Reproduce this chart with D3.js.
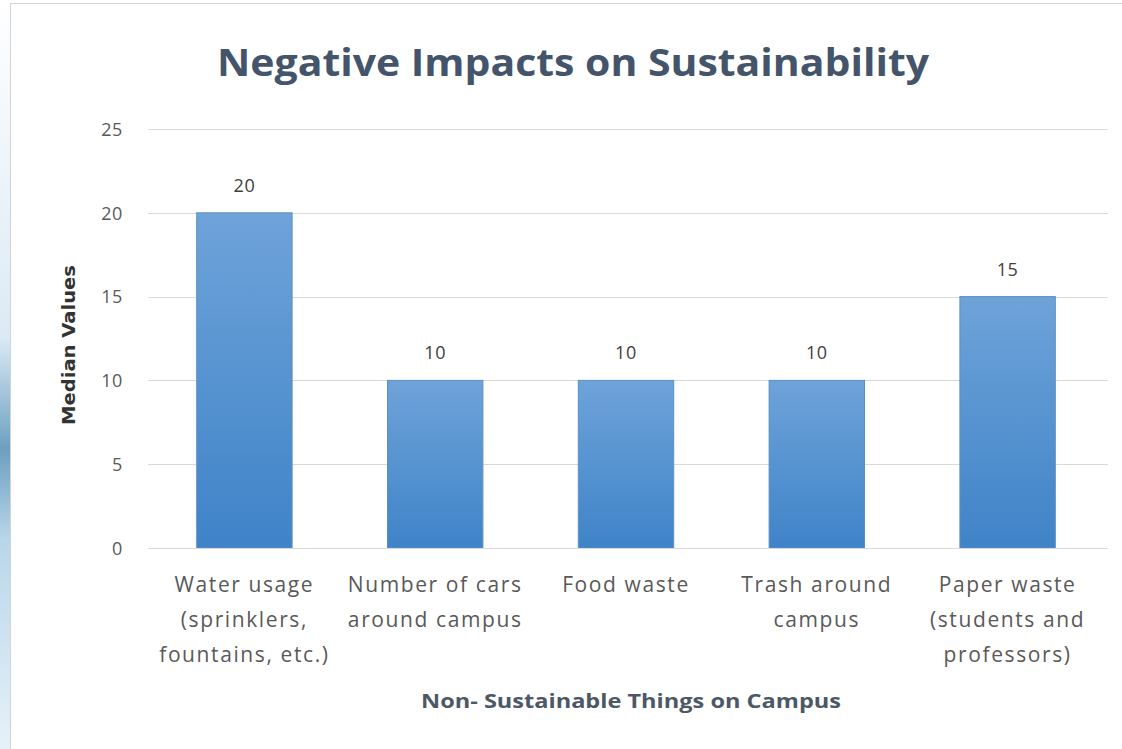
<!DOCTYPE html>
<html>
<head>
<meta charset="utf-8">
<script src="https://cdn.jsdelivr.net/npm/d3@7"></script>
<style>
  html, body { margin: 0; padding: 0; background: #ffffff; }
  svg { display: block; }
</style>
</head>
<body>
<svg id="chart" width="1122" height="749"></svg>
<script>
// Survey medians per campus issue
const categories = [
  ["Water usage", "(sprinklers,", "fountains, etc.)"],
  ["Number of cars", "around campus"],
  ["Food waste"],
  ["Trash around", "campus"],
  ["Paper waste", "(students and", "professors)"]
];
const values = [20, 10, 10, 10, 15];
const yTicks = [0, 5, 10, 15, 20, 25];
const chartTitle = "Negative Impacts on Sustainability";
const xTitle = "Non- Sustainable Things on Campus";
const yTitle = "Median Values";

const W = 1122, H = 749;
const svg = d3.select("#chart");
const defs = svg.append("defs");

// soft watery strip behind the chart panel on the left
const side = defs.append("linearGradient").attr("id", "side").attr("x1", 0).attr("y1", 0).attr("x2", 0).attr("y2", 1);
side.append("stop").attr("offset", "0").attr("stop-color", "#ffffff");
side.append("stop").attr("offset", "0.45").attr("stop-color", "#dbeaf5");
side.append("stop").attr("offset", "0.6").attr("stop-color", "#6d9fc0");
side.append("stop").attr("offset", "0.72").attr("stop-color", "#b9d6ea");
side.append("stop").attr("offset", "1").attr("stop-color", "#e6f1f9");
svg.append("rect").attr("x", 0).attr("y", 0).attr("width", 12).attr("height", H).attr("fill", "url(#side)");

// chart panel
svg.append("rect").attr("x", 10.5).attr("y", 3.5).attr("width", W).attr("height", H)
  .attr("fill", "#ffffff").attr("stroke", "#d4d4d4").attr("stroke-width", 1);

// bar fill: lighter at top, deeper blue at base
const barGrad = defs.append("linearGradient").attr("id", "barGrad").attr("x1", 0).attr("y1", 0).attr("x2", 0).attr("y2", 1);
barGrad.append("stop").attr("offset", "0").attr("stop-color", "#6ea3d9");
barGrad.append("stop").attr("offset", "1").attr("stop-color", "#3f83c8");

const x = d3.scaleBand().domain(d3.range(categories.length)).range([149, 1103]).paddingInner(0.5).paddingOuter(0.25);
const y = d3.scaleLinear().domain([0, 25]).range([548, 129]);

// gridlines
svg.append("g").selectAll("line").data(yTicks).join("line")
  .attr("x1", 148).attr("x2", 1108)
  .attr("y1", d => Math.round(y(d)) + 0.5).attr("y2", d => Math.round(y(d)) + 0.5)
  .attr("stroke", "#d9d9d9").attr("stroke-width", 1);

// y tick labels
const yAxis = d3.axisLeft(y).tickValues(yTicks).tickSize(0).tickPadding(0);
const gy = svg.append("g").attr("transform", "translate(123,0)").call(yAxis);
gy.select(".domain").remove();
gy.selectAll("text")
  .attr("font-family", "'Open Sans', sans-serif").attr("font-size", 18)
  .attr("letter-spacing", "0.6")
  .attr("fill", "#595959").attr("dy", "0.35em");

// bars
svg.append("g").selectAll("rect").data(values).join("rect")
  .attr("x", (d, i) => x(i))
  .attr("y", d => y(d))
  .attr("width", x.bandwidth())
  .attr("height", d => y(0) - y(d))
  .attr("fill", "url(#barGrad)")
  .attr("stroke", "#5b8fc4").attr("stroke-width", 1);

// value labels
svg.append("g").selectAll("text").data(values).join("text")
  .attr("x", (d, i) => x(i) + x.bandwidth() / 2)
  .attr("y", d => y(d) - 21)
  .attr("text-anchor", "middle")
  .attr("font-family", "'Open Sans', sans-serif").attr("font-size", 18)
  .attr("letter-spacing", "0.6")
  .attr("fill", "#404040")
  .text(d => d);

// category labels
const xAxis = d3.axisBottom(x).tickSize(0).tickFormat("");
const gx = svg.append("g").attr("transform", `translate(0,${y(0)})`).call(xAxis);
gx.select(".domain").attr("stroke", "#d9d9d9");
svg.append("g").selectAll("text").data(categories).join("text")
  .attr("x", (d, i) => x(i) + x.bandwidth() / 2)
  .attr("y", 592)
  .attr("text-anchor", "middle")
  .attr("font-family", "'Open Sans', sans-serif").attr("font-size", 21)
  .attr("fill", "#595959")
  .each(function(lines) {
    d3.select(this).selectAll("tspan").data(lines).join("tspan")
      .attr("x", d3.select(this).attr("x"))
      .attr("dy", (l, j) => j === 0 ? 0 : 35)
      .attr("letter-spacing", "1.6")
      .text(l => l);
  });

// chart title
svg.append("text")
  .attr("x", 573).attr("y", 76)
  .attr("text-anchor", "middle")
  .attr("font-family", "'Open Sans', sans-serif").attr("font-weight", 700).attr("font-size", 38)
  .attr("fill", "#44546a")
  .attr("textLength", 712).attr("lengthAdjust", "spacingAndGlyphs")
  .text(chartTitle);

// x axis title
svg.append("text")
  .attr("x", 631).attr("y", 708)
  .attr("text-anchor", "middle")
  .attr("font-family", "'Open Sans', sans-serif").attr("font-weight", 700).attr("font-size", 19)
  .attr("fill", "#4d5866")
  .attr("textLength", 420).attr("lengthAdjust", "spacingAndGlyphs")
  .text(xTitle);

// y axis title
svg.append("text")
  .attr("transform", "translate(75,345) rotate(-90)")
  .attr("text-anchor", "middle")
  .attr("font-family", "'DejaVu Sans Condensed', 'DejaVu Sans', sans-serif").attr("font-weight", 700).attr("font-size", 18)
  .attr("fill", "#333333")
  .attr("textLength", 160).attr("lengthAdjust", "spacingAndGlyphs")
  .text(yTitle);
</script>
</body>
</html>
